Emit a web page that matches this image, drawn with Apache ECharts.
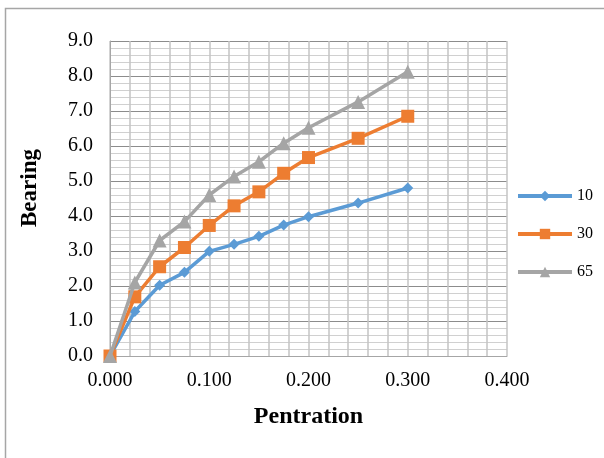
<!DOCTYPE html>
<html><head><meta charset="utf-8">
<script src="https://cdn.jsdelivr.net/npm/echarts@6/dist/echarts.min.js"></script>
<style>html,body{margin:0;padding:0;background:#fff}#c{width:604px;height:458px}</style>
</head><body><div id="c"></div>
<script>
const penetration = [0, 0.025, 0.05, 0.075, 0.1, 0.125, 0.15, 0.175, 0.2, 0.25, 0.3];
const s10 = [0, 1.27, 2.02, 2.39, 2.99, 3.19, 3.42, 3.74, 3.98, 4.37, 4.80];
const s30 = [0, 1.69, 2.55, 3.10, 3.73, 4.29, 4.69, 5.22, 5.67, 6.22, 6.85];
const s65 = [0, 2.10, 3.30, 3.84, 4.60, 5.13, 5.55, 6.08, 6.52, 7.26, 8.12];
const seriesNames = ['10', '30', '65'];
const colors = ['#5B9BD5', '#ED7D31', '#A5A5A5'];
const symbols = ['diamond', 'rect', 'triangle'];
const symbolSizes = [11, 13, 14];
const allData = [s10, s30, s65];

const font = '"Liberation Serif", "Times New Roman", serif';
const chart = echarts.init(document.getElementById('c'), null, {renderer: 'canvas'});
chart.setOption({
  animation: false,
  backgroundColor: '#fff',
  graphic: [{type: 'rect', shape: {x: 5.5, y: 8.5, width: 700, height: 600}, style: {fill: 'none', stroke: '#a6a6a6', lineWidth: 1.5}, silent: true, z: -1}],
  grid: {left: 110, right: 97, top: 41, bottom: 102},
  legend: {
    orient: 'vertical', left: 516, top: 188, padding: 0, itemWidth: 54, itemHeight: 13, itemGap: 22,
    textStyle: {fontFamily: font, fontSize: 16, color: '#000'},
    lineStyle: {width: 4},
    data: seriesNames
  },
  xAxis: {
    type: 'value', min: 0, max: 0.4, interval: 0.1,
    name: 'Pentration', nameLocation: 'middle', nameGap: 49,
    nameTextStyle: {fontFamily: font, fontSize: 24, fontWeight: 'bold', color: '#000'},
    axisLine: {show: true, lineStyle: {color: '#a6a6a6', width: 1}},
    axisTick: {show: false},
    axisLabel: {fontFamily: font, fontSize: 20, color: '#000', margin: 15, formatter: v => v.toFixed(3)},
    splitLine: {show: true, lineStyle: {color: '#c4c4c4', width: 1.5}},
    minorTick: {show: false, splitNumber: 5},
    minorSplitLine: {show: true, lineStyle: {color: '#c4c4c4', width: 1.5}}
  },
  yAxis: {
    type: 'value', min: 0, max: 9, interval: 1,
    name: 'Bearing', nameLocation: 'middle', nameGap: 68,
    nameTextStyle: {fontFamily: font, fontSize: 23, fontWeight: 'bold', color: '#000', padding: [0, 0, 0, 21]},
    axisLine: {show: true, lineStyle: {color: '#a6a6a6', width: 1}},
    axisTick: {show: false},
    axisLabel: {fontFamily: font, fontSize: 20, color: '#000', margin: 17, formatter: v => v.toFixed(1)},
    splitLine: {show: true, lineStyle: {color: '#8c8c8c', width: 1}},
    minorTick: {show: false, splitNumber: 5},
    minorSplitLine: {show: true, lineStyle: {color: '#d0d0d0', width: 1}}
  },
  series: allData.map((d, i) => ({
    name: seriesNames[i], type: 'line',
    data: penetration.map((x, j) => [x, d[j]]),
    symbol: symbols[i], symbolSize: symbolSizes[i], showAllSymbol: true,
    lineStyle: {color: colors[i], width: 3.5},
    itemStyle: {color: colors[i]},
    z: 3 + i
  }))
});
</script></body></html>
